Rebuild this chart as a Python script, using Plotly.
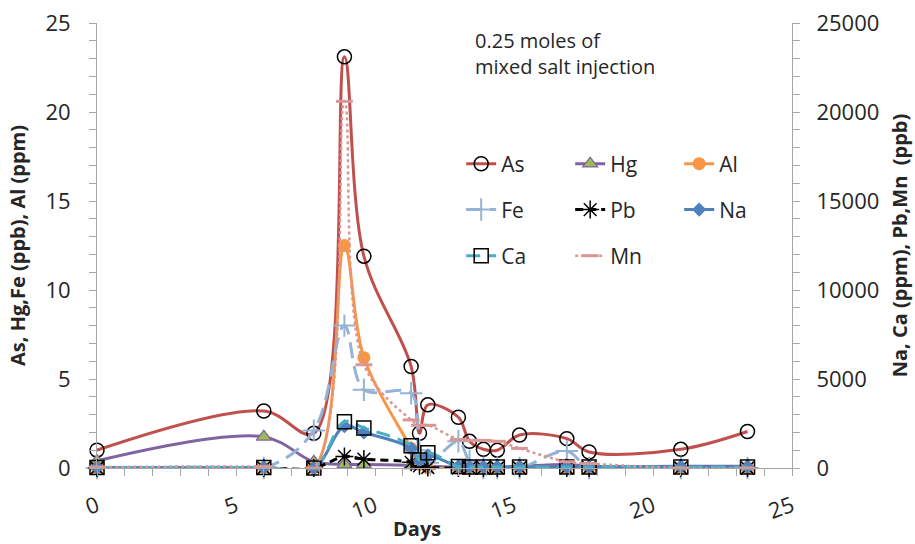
import plotly.graph_objects as go

# ---- data ----
days = [0, 6, 7.8, 8.9, 9.6, 11.3, 11.6, 11.9, 13.0, 13.4, 13.9, 14.4, 15.2, 16.9, 17.7, 21.0, 23.4]

# left axis: As, Hg, Fe (ppb), Al (ppm)
as_vals = [1.0, 3.2, 1.95, 23.1, 11.9, 5.7, 1.95, 3.55, 2.85, 1.5, 1.05, 1.0, 1.85, 1.65, 0.9, 1.05, 2.05]
hg_vals = [0.4, 1.75, 0.35, 0.2, 0.2, 0.15, 0.1, 0.1, 0.05, 0.05, 0.05, 0.05, 0.1, 0.2, 0.1, 0.1, 0.1]
al_vals = [0, 0, 0, 12.5, 6.2, 1.1, 0.2, 0, 0, 0, 0, 0, 0, 0, 0, 0, 0]
fe_vals = [0, 0, 2.1, 8.0, 4.4, 4.2, 1.0, 0.3, 1.5, 0.4, 0, 0, 0, 0.95, 0, 0, 0]

# right axis: Na, Ca (ppm), Pb, Mn (ppb)
pb_vals = [0, 0, 0, 650, 500, 320, 120, 30, 0, 0, 0, 0, 0, 0, 0, 0, 0]
na_vals = [30, 30, 0, 2350, 2000, 1100, 400, 700, 80, 60, 60, 60, 60, 60, 60, 60, 60]
ca_vals = [30, 30, 0, 2600, 2250, 1250, 450, 850, 80, 60, 60, 60, 60, 60, 60, 60, 60]
mn_vals = [50, 80, 0, 20600, 5800, 2700, 2400, 2400, 1600, 1550, 1550, 1500, 1100, 350, 250, 0, 0]

x_ticks = [0, 5, 10, 15, 20, 25]
left_ticks = [0, 5, 10, 15, 20, 25]
right_ticks = [0, 5000, 10000, 15000, 20000, 25000]

FONT = "Open Sans"
TXT = "#262626"
AX = "#A6A6A6"

fig = go.Figure()

def add(name, y, color, width, dash, marker, legend, yaxis="y"):
    fig.add_trace(go.Scatter(
        x=days, y=y, name=name, mode="lines+markers", yaxis=yaxis,
        line=dict(color=color, width=width, dash=dash, shape="spline", smoothing=1),
        marker=marker, legend=legend, cliponaxis=False))

add("As", as_vals, "#C0504D", 3, "solid",
    dict(symbol="circle-open", size=14, color="black", line=dict(width=1.5)), "legend")
add("Hg", hg_vals, "#8064A2", 3, "solid",
    dict(symbol="triangle-up", size=13, color="#9BBB59", line=dict(width=1.2, color="#8064A2")), "legend")
add("Al", al_vals, "#F79646", 3, "solid",
    dict(symbol="circle", size=13, color="#F79646"), "legend")
add("Fe", fe_vals, "#95B3D7", 3, "16px,8px",
    dict(symbol="cross-thin-open", size=16, color="#95B3D7", line=dict(width=2, color="#95B3D7")), "legend2")
add("Pb", pb_vals, "black", 3, "8px,5px",
    dict(symbol="asterisk-open", size=15, color="black", line=dict(width=1.5, color="black")), "legend2", "y2")
add("Na", na_vals, "#4F81BD", 3, "solid",
    dict(symbol="diamond", size=11, color="#4F81BD"), "legend2", "y2")
add("Ca", ca_vals, "#4BACC6", 3, "14px,8px",
    dict(symbol="square-open", size=14, color="black", line=dict(width=1.5, color="black")), "legend3", "y2")
add("Mn", mn_vals, "#DA9694", 2.5, "dot",
    dict(symbol="line-ew-open", size=12, color="#DA9694", line=dict(width=3, color="#DA9694")), "legend3", "y2")

legend_common = dict(orientation="h", font=dict(family=FONT, size=21, color=TXT),
                     bgcolor="rgba(0,0,0,0)", entrywidth=64, entrywidthmode="pixels",
                     xanchor="left", yanchor="middle", x=0.524)

tickfont = dict(family=FONT, size=22, color=TXT)
titlefont = dict(family=FONT, size=20, color=TXT, weight="bold")

fig.update_layout(
    width=915, height=544,
    margin=dict(l=97, r=123, t=23, b=76, autoexpand=False),
    paper_bgcolor="white", plot_bgcolor="white",
    font=dict(family=FONT, color=TXT),
    legend=dict(legend_common, y=0.683),
    legend2=dict(legend_common, y=0.580),
    legend3=dict(legend_common, y=0.476),
    xaxis=dict(range=[0, 25], tickvals=x_ticks, ticktext=[str(v) for v in x_ticks],
               showline=True, linecolor=AX, linewidth=1, ticks="outside", ticklen=7,
               tickcolor=AX, showgrid=False, zeroline=False, tickangle=-20,
               tickfont=tickfont, ticklabelstandoff=9, automargin=False,
               minor=dict(dtick=1, tick0=0, ticks="outside", ticklen=7, tickcolor=AX, showgrid=False)),
    yaxis=dict(range=[0, 25], tickvals=left_ticks, ticktext=[str(v) for v in left_ticks],
               showline=True, linecolor=AX, linewidth=1, ticks="outside", ticklen=7,
               tickcolor=AX, showgrid=False, zeroline=False, tickfont=tickfont,
               ticklabelstandoff=14, automargin=False,
               minor=dict(dtick=1, tick0=0, ticks="outside", ticklen=7, tickcolor=AX, showgrid=False),
               title=dict(text="As, Hg,Fe (ppb), Al (ppm)", font=titlefont, standoff=14)),
    yaxis2=dict(range=[0, 25000], tickvals=right_ticks, ticktext=[str(v) for v in right_ticks],
                overlaying="y", side="right",
                showline=True, linecolor=AX, linewidth=1, ticks="outside", ticklen=7,
                tickcolor=AX, showgrid=False, zeroline=False, tickfont=tickfont,
                ticklabelstandoff=12, automargin=False,
                minor=dict(dtick=1000, tick0=0, ticks="outside", ticklen=7, tickcolor=AX, showgrid=False),
                title=dict(text="Na, Ca (ppm), Pb,Mn  (ppb)", font=titlefont, standoff=14)),
    annotations=[
        dict(text="0.25 moles of<br>mixed salt injection", xref="paper", yref="paper",
             x=0.541, y=0.996, xanchor="left", yanchor="top", align="left",
             showarrow=False, font=dict(family=FONT, size=20, color=TXT)),
        dict(text="Days", xref="paper", yref="paper", x=0.46, y=-0.135,
             xanchor="center", yanchor="middle", showarrow=False, font=titlefont),
    ],
)

fig.write_html("out.html")
